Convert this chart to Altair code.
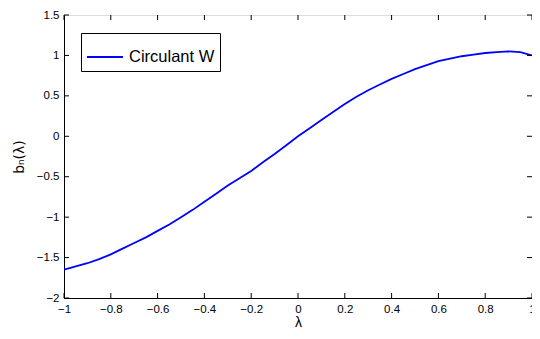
import altair as alt
import pandas as pd

lam = [-1.00, -0.95, -0.90, -0.85, -0.80, -0.75, -0.70, -0.65, -0.60, -0.55,
       -0.50, -0.45, -0.40, -0.35, -0.30, -0.25, -0.20, -0.15, -0.10, -0.05,
       0.00, 0.05, 0.10, 0.15, 0.20, 0.25, 0.30, 0.35, 0.40, 0.45,
       0.50, 0.55, 0.60, 0.65, 0.70, 0.75, 0.80, 0.85, 0.90, 0.95, 1.00]
bn = [-1.65, -1.61, -1.57, -1.52, -1.46, -1.39, -1.32, -1.25, -1.17, -1.09,
      -1.00, -0.91, -0.81, -0.71, -0.61, -0.52, -0.43, -0.32, -0.22, -0.11,
      0.00, 0.10, 0.20, 0.30, 0.40, 0.49, 0.57, 0.64, 0.71, 0.77,
      0.83, 0.88, 0.93, 0.96, 0.99, 1.01, 1.03, 1.04, 1.05, 1.04, 1.00]
x_ticks = [-1, -0.8, -0.6, -0.4, -0.2, 0, 0.2, 0.4, 0.6, 0.8, 1]
y_ticks = [-2, -1.5, -1, -0.5, 0, 0.5, 1, 1.5]
series = "Circulant W"

W, H = 468, 283
df = pd.DataFrame({"lam": lam, "bn": bn, "series": series})
xt = pd.DataFrame({"v": x_ticks})
yt = pd.DataFrame({"v": y_ticks})

xs = alt.Scale(domain=[-1, 1], nice=False, zero=False)
ys = alt.Scale(domain=[-2, 1.5], nice=False, zero=False)

font = "Liberation Sans"

line = alt.Chart(df).mark_line(strokeWidth=1.8, clip=True).encode(
    x=alt.X("lam:Q", scale=xs, title="λ",
            axis=alt.Axis(values=x_ticks, format=".1~f", tickSize=0, labelPadding=5,
                          labelFont=font, labelFontSize=11.5, labelColor="black",
                          titleFont=font, titleFontSize=14, titleFontWeight="normal",
                          titleColor="black", titlePadding=1, grid=False,
                          domainColor="black", labelFlush=False)),
    y=alt.Y("bn:Q", scale=ys, title="bₙ(λ)",
            axis=alt.Axis(values=y_ticks, format=".1~f", tickSize=0, labelPadding=5,
                          labelFont=font, labelFontSize=11.5, labelColor="black",
                          titleFont="DejaVu Sans", titleFontSize=14, titleFontWeight="normal",
                          titleColor="black", titlePadding=10, grid=False,
                          domainColor="black", labelFlush=False)),
    color=alt.Color("series:N", scale=alt.Scale(range=["#0000ff"]),
                    legend=alt.Legend(title=None, orient="none", legendX=17, legendY=18,
                                      strokeColor="black", fillColor="white",
                                      padding=5, symbolType="stroke", symbolSize=1296,
                                      symbolStrokeWidth=1.8, labelFont=font,
                                      labelFontSize=16.5, labelColor="black",
                                      labelOffset=5)),
)

tl = 5
xb = alt.Chart(xt).mark_rule(color="black", strokeWidth=1).encode(
    x=alt.X("v:Q", scale=xs), y=alt.value(H), y2=alt.value(H - tl))
xtop = alt.Chart(xt).mark_rule(color="black", strokeWidth=1).encode(
    x=alt.X("v:Q", scale=xs), y=alt.value(0), y2=alt.value(tl))
yl = alt.Chart(yt).mark_rule(color="black", strokeWidth=1).encode(
    y=alt.Y("v:Q", scale=ys), x=alt.value(0), x2=alt.value(tl))
yr = alt.Chart(yt).mark_rule(color="black", strokeWidth=1).encode(
    y=alt.Y("v:Q", scale=ys), x=alt.value(W), x2=alt.value(W - tl))

chart = alt.layer(line, xb, xtop, yl, yr).properties(
    width=W, height=H,
    autosize=alt.AutoSizeParams(type="none"),
    padding={"left": 56, "top": 7, "right": 0, "bottom": 33},
).configure_view(stroke="black", strokeWidth=1).configure(background="white")

chart.save("out.html", embed_options={"renderer": "svg", "actions": False})
